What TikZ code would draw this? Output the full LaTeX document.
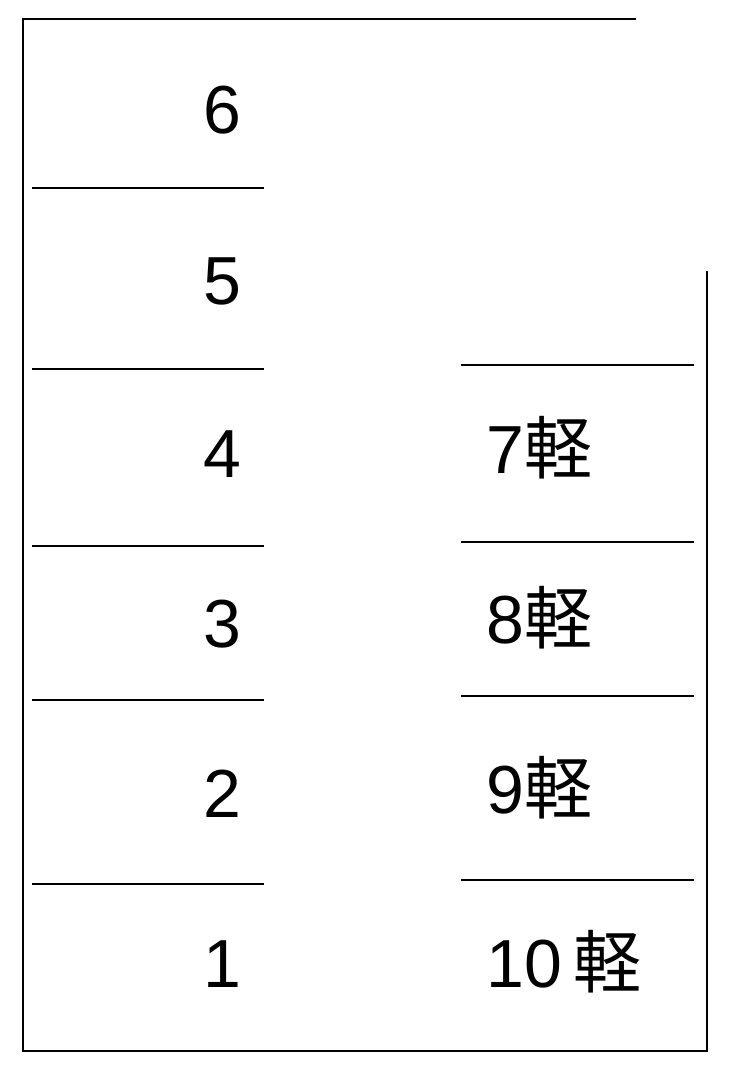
\documentclass[tikz,border=0pt]{standalone}
\usepackage{fontspec}
\setmainfont{Liberation Sans}
\newfontfamily\cjk{Noto Sans CJK JP}
\begin{document}
\begin{tikzpicture}[x=1pt,y=-1pt,
  rule/.style={line width=2pt,black},
  lbl/.style={inner sep=0pt,anchor=base,font=\fontsize{68}{80}\selectfont},
  rlbl/.style={inner sep=0pt,anchor=base west,font=\fontsize{68}{80}\selectfont}]
\useasboundingbox (0,0) rectangle (729,1065);
% frame
\draw[rule] (636,19) -- (23,19) -- (23,1051) -- (707,1051) -- (707,271);
% left dividers
\foreach \y in {188,369,546,700,884} \draw[rule] (32,\y) -- (264,\y);
% right dividers
\foreach \y in {365,542,696,880} \draw[rule] (461,\y) -- (694,\y);
% left labels
\node[lbl] (l6) at (222,133) {6};
\node[lbl] (l5) at (222,304) {5};
\node[lbl] (l4) at (222,477) {4};
\node[lbl] (l3) at (222,647) {3};
\node[lbl] (l2) at (222,817) {2};
\node[lbl] (l1) at (222,987) {1};
% right labels
\node[rlbl] (r7) at (486,473) {7{\cjk 軽}};
\node[rlbl] (r8) at (486,643) {8{\cjk 軽}};
\node[rlbl] (r9) at (486,813) {9{\cjk 軽}};
\node[rlbl] (r10) at (486,987) {10\hspace{12pt}{\cjk 軽}};
\end{tikzpicture}
\end{document}
